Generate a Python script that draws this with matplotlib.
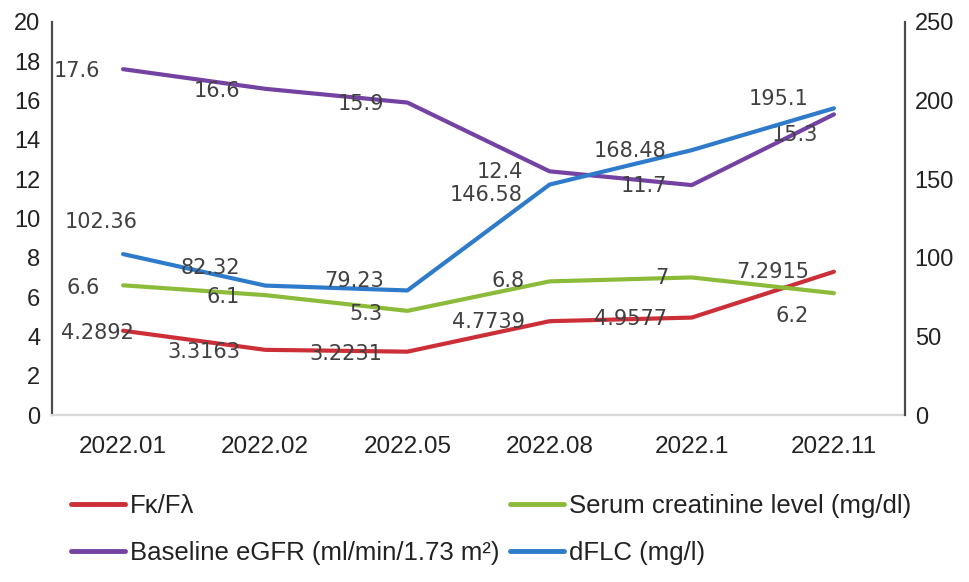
import matplotlib
matplotlib.use('Agg')
import matplotlib.pyplot as plt

# data
months = ['2022.01', '2022.02', '2022.05', '2022.08', '2022.1', '2022.11']
fk_fl = [4.2892, 3.3163, 3.2231, 4.7739, 4.9577, 7.2915]
creatinine = [6.6, 6.1, 5.3, 6.8, 7, 6.2]
egfr = [17.6, 16.6, 15.9, 12.4, 11.7, 15.3]
dflc = [102.36, 82.32, 79.23, 146.58, 168.48, 195.1]

# label offsets in pixels: (dx of right edge, dy down) relative to each point
fk_off = [(11, 2), (-25, 2), (-25, 2), (-25, 1), (-25, 1), (-25, 0)]
cr_off = [(-23, 3), (-25, 2), (-25, 3), (-25, 0), (-23, 1), (-25, 23)]
eg_off = [(-23, 2), (-25, 2), (-23, 1), (-27, 1), (-25, 1), (-16, 21)]
df_off = [(15, -32), (-25, -18), (-23, -9), (-27, 10), (-25, 1), (-25, -9)]

RED = '#cc2f38'
GREEN = '#8cbb3a'
PURPLE = '#7342a2'
BLUE = '#2f7bcb'
LABEL_COLOR = '#404040'
TICK_FONT = ['Liberation Sans', 'DejaVu Sans']

plt.rcParams['font.family'] = TICK_FONT

fig = plt.figure(figsize=(9.69, 5.82), dpi=100)
ax = fig.add_axes([52 / 969, 167 / 582, 853 / 969, 393 / 582])
ax2 = ax.twinx()

x = list(range(len(months)))
lw = 3.0

l_fk, = ax.plot(x, fk_fl, color=RED, lw=lw, solid_capstyle='round')
l_cr, = ax.plot(x, creatinine, color=GREEN, lw=lw, solid_capstyle='round')
l_eg, = ax.plot(x, egfr, color=PURPLE, lw=lw, solid_capstyle='round')
l_df, = ax2.plot(x, dflc, color=BLUE, lw=lw, solid_capstyle='round')


def fmt(v):
    return f'{v:g}'


def add_labels(axis, values, offsets):
    for xi, v, (dx, dy) in zip(x, values, offsets):
        axis.annotate(fmt(v), (xi, v), xytext=(dx * 0.72, -dy * 0.72),
                      textcoords='offset points', ha='right', va='center',
                      fontsize=15, color=LABEL_COLOR, family='DejaVu Sans')


add_labels(ax, fk_fl, fk_off)
add_labels(ax, creatinine, cr_off)
add_labels(ax, egfr, eg_off)
add_labels(ax2, dflc, df_off)

ax.set_xlim(-0.5, len(months) - 0.5)
ax.set_ylim(0, 20)
ax.set_yticks(range(0, 21, 2))
ax2.set_ylim(0, 250)
ax2.set_yticks(range(0, 251, 50))
ax.set_xticks(x)
ax.set_xticklabels(months)

ax.tick_params(axis='y', length=0, pad=8.5, labelsize=17, colors='#222222')
ax.tick_params(axis='x', length=0, pad=15, labelsize=17.5, colors='#222222')
ax2.tick_params(axis='y', length=0, pad=7, labelsize=17, colors='#222222')

for a in (ax, ax2):
    a.spines['top'].set_visible(False)
ax.spines['right'].set_visible(False)
ax2.spines['left'].set_visible(False)
ax2.spines['bottom'].set_visible(False)
ax.spines['left'].set_color('#4a4a4a')
ax.spines['left'].set_linewidth(1.6)
ax2.spines['right'].set_color('#4a4a4a')
ax2.spines['right'].set_linewidth(1.6)
ax.spines['bottom'].set_color('#d9d9d9')
ax.spines['bottom'].set_linewidth(1.6)

handles = [l_fk, l_eg, l_cr, l_df]
labels = ['F\u03ba/F\u03bb', 'Baseline eGFR (ml/min/1.73 m\u00b2)',
          'Serum creatinine level (mg/dl)', 'dFLC (mg/l)']
leg = fig.legend(handles, labels, ncol=2, loc='upper left',
                 bbox_to_anchor=(71 / 969, 1 - 494 / 582), frameon=False,
                 fontsize=18.5, handlelength=2.1, handletextpad=0.2,
                 columnspacing=0.4, labelspacing=0.9, borderpad=0,
                 borderaxespad=0)
for t in leg.get_texts():
    t.set_color('#222222')
for h in leg.legend_handles:
    h.set_linewidth(3.5)

fig.savefig('out.png', dpi=100)
